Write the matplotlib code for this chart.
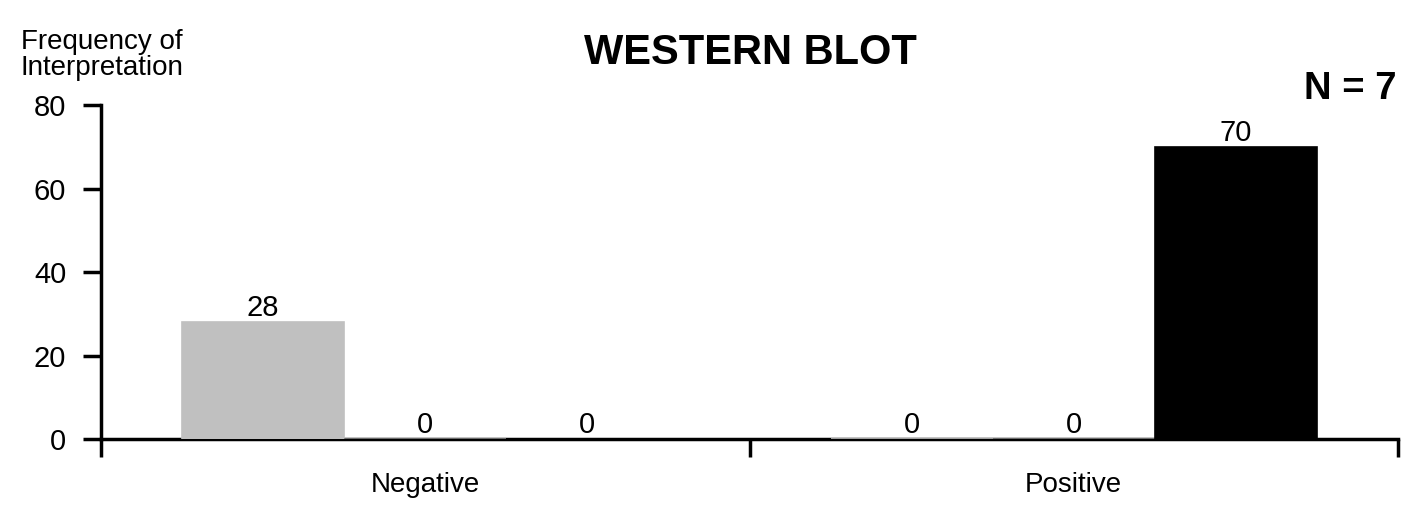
import numpy as np
import matplotlib.pyplot as plt

plt.rcParams['font.family'] = ['Liberation Sans', 'DejaVu Sans']

categories = ['Negative', 'Positive']
series_light = [28, 0]
series_mid = [0, 0]
series_dark = [0, 70]
colors = ['#c0c0c0', '#808080', '#000000']

fig = plt.figure(figsize=(14.11, 5.08), dpi=100)
ax = fig.add_axes([0.0716, 0.1358, 0.9192, 0.6575])

x = np.arange(len(categories))
w = 0.25
for i, (vals, c) in enumerate(zip([series_light, series_mid, series_dark], colors)):
    b = ax.bar(x + (i - 1) * w, vals, w, color=c, edgecolor=c, linewidth=1.2, zorder=1)
    ax.bar_label(b, padding=0, fontsize=21)

ax.set_xlim(-0.5, 1.5)
ax.set_ylim(0, 80)
ax.set_yticks([0, 20, 40, 60, 80])
ax.set_xticks([-0.5, 0.5, 1.5])
ax.set_xticklabels([])
ax.set_xticks(x, minor=True)
ax.set_xticklabels(categories, minor=True, fontsize=20)
ax.tick_params(axis='x', which='minor', length=0, pad=24)
ax.tick_params(axis='x', which='major', length=13, width=2.5, direction='out')
ax.tick_params(axis='y', length=13, width=2.5, direction='out', labelsize=21, pad=12)

for s in ['top', 'right']:
    ax.spines[s].set_visible(False)
for s in ['left', 'bottom']:
    ax.spines[s].set_linewidth(2.5)
    ax.spines[s].set_zorder(0)

fig.text(0.5315, 0.896, 'WESTERN BLOT', ha='center', va='center', fontsize=30, fontweight='bold')
fig.text(0.9895, 0.825, 'N = 7', ha='right', va='center', fontsize=27.5, fontweight='bold')
fig.text(0.0725, 0.892, 'Frequency of\nInterpretation', ha='center', va='center', fontsize=20, linespacing=1.0)

fig.savefig('out.png', dpi=100)
